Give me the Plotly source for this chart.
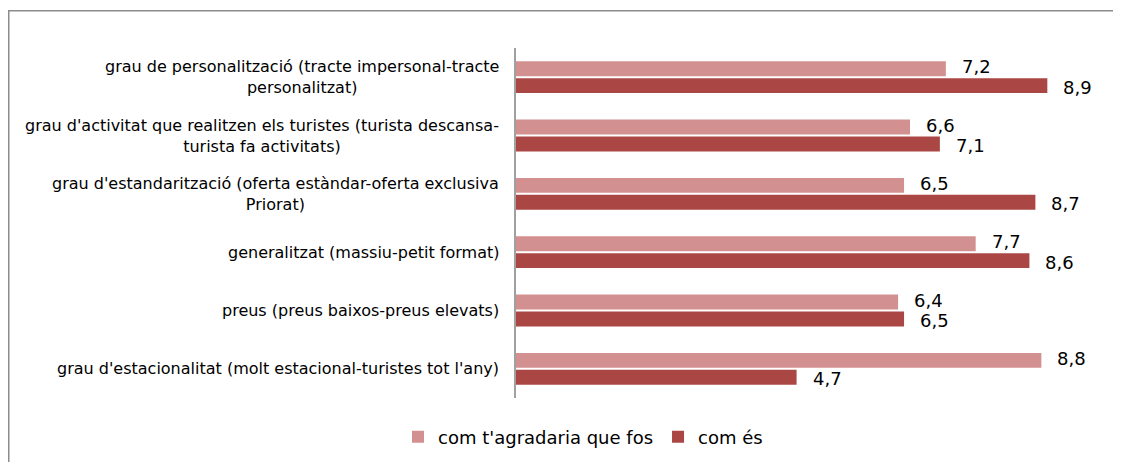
import plotly.graph_objects as go

categories = [
    "grau de personalització (tracte impersonal-tracte<br>personalitzat)",
    "grau d'activitat que realitzen els turistes (turista descansa-<br>turista fa activitats)",
    "grau d'estandarització (oferta estàndar-oferta exclusiva<br>Priorat)",
    "generalitzat (massiu-petit format)",
    "preus (preus baixos-preus elevats)",
    "grau d'estacionalitat (molt estacional-turistes tot l'any)",
]
ideal = [7.2, 6.6, 6.5, 7.7, 6.4, 8.8]      # com t'agradaria que fos
actual = [8.9, 7.1, 8.7, 8.6, 6.5, 4.7]     # com és
series_names = ["com t'agradaria que fos", "com és"]

C_LIGHT = "#D39090"
C_DARK = "#AA4745"
FONT = "DejaVu Sans, Liberation Sans, Arial, sans-serif"

# page body has an 8px default margin: figure pixel = screen pixel - 8
OFF = 8
W, H = 1113, 454
L, T = 516 - OFF, 48 - OFF
PLOT_RIGHT, PLOT_BOTTOM = 1113 - OFF, 398 - OFF
R, B = W - PLOT_RIGHT, H - PLOT_BOTTOM
pw = W - L - R
ph = H - T - B

fig = go.Figure()
fig.add_trace(go.Bar(name=series_names[0], y=categories, x=ideal, orientation="h",
                     marker=dict(color=C_LIGHT, line=dict(width=0))))
fig.add_trace(go.Bar(name=series_names[1], y=categories, x=actual, orientation="h",
                     marker=dict(color=C_DARK, line=dict(width=0))))

def fmt(v):
    return f"{v:.1f}".replace(".", ",")

for cat, v in zip(categories, ideal):
    fig.add_annotation(x=v, y=cat, xref="x", yref="y", text=fmt(v), showarrow=False,
                       xanchor="left", yanchor="middle", xshift=14, yshift=10.5,
                       font=dict(family=FONT, size=18, color="#000"))
for cat, v in zip(categories, actual):
    fig.add_annotation(x=v, y=cat, xref="x", yref="y", text=fmt(v), showarrow=False,
                       xanchor="left", yanchor="middle", xshift=14, yshift=-10,
                       font=dict(family=FONT, size=18, color="#000"))

# category labels (centered multi-line, right-anchored)
for cat in categories:
    fig.add_annotation(x=0, y=cat, xref="paper", yref="y", text=cat, showarrow=False,
                       xanchor="right", yanchor="middle", align="center", xshift=-15,
                       font=dict(family=FONT, size=16, color="#000"))

def px_to_paper_x(sx):
    return (sx - OFF - L) / pw
def px_to_paper_y(sy):
    return (H - B - (sy - OFF)) / ph

# outer border
fig.add_shape(type="rect", xref="paper", yref="paper",
              x0=px_to_paper_x(8.75), x1=px_to_paper_x(1140),
              y0=px_to_paper_y(490), y1=px_to_paper_y(10.75),
              line=dict(color="#8C8C8C", width=1.5), layer="below")

fig.update_layout(
    width=W, height=H,
    margin=dict(l=L, r=R, t=T, b=B, autoexpand=False),
    paper_bgcolor="white", plot_bgcolor="white",
    barmode="group", bargap=0.42, bargroupgap=0.12,
    font=dict(family=FONT, size=16, color="#000"),
    showlegend=True,
    legend=dict(orientation="h", x=px_to_paper_x(583), xanchor="center",
                y=px_to_paper_y(437), yanchor="middle",
                font=dict(family=FONT, size=18, color="#000"),
                itemwidth=30, traceorder="normal", tracegroupgap=0),
    xaxis=dict(range=[0, 10], showgrid=False, zeroline=False, showticklabels=False,
               showline=False, ticks=""),
    yaxis=dict(autorange="reversed", showticklabels=False, showgrid=False,
               zeroline=False, showline=True, linecolor="#A0A0A0", linewidth=2, ticks="",
               categoryorder="array", categoryarray=categories),
)

fig.write_html("out.html")
